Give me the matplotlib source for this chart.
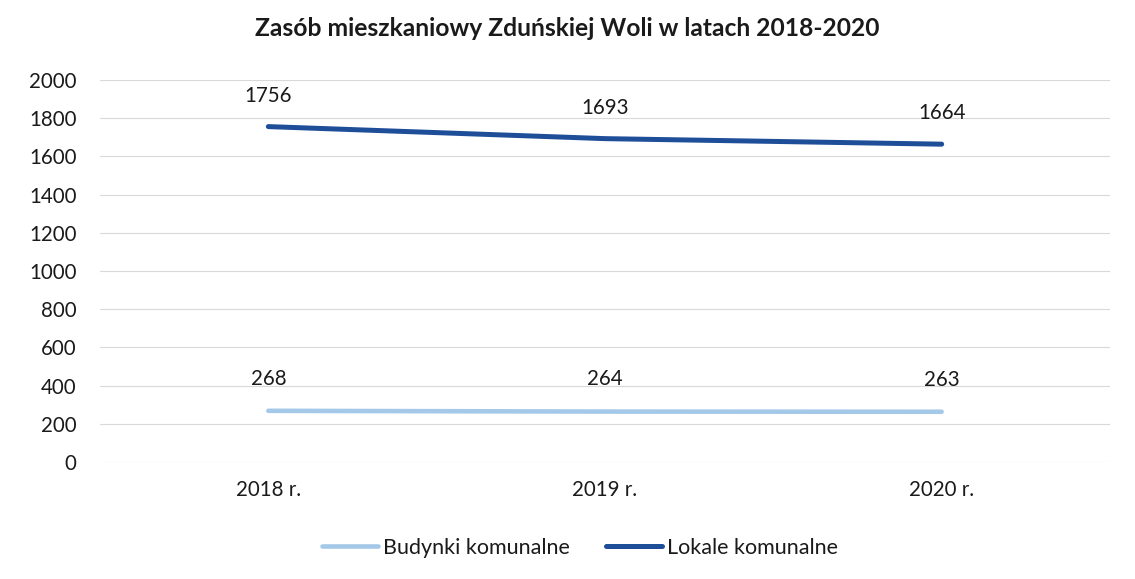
import matplotlib
matplotlib.use("Agg")
import matplotlib.pyplot as plt

plt.rcParams["font.family"] = ["Lato", "DejaVu Sans"]

YEARS = ["2018 r.", "2019 r.", "2020 r."]
BUDYNKI = [268, 264, 263]
LOKALE = [1756, 1693, 1664]
Y_TICKS = list(range(0, 2001, 200))

LIGHT = "#A4C8E8"
DARK = "#1F4E99"
TEXT = "#1A1A1A"
FS = 14.8

fig = plt.figure(figsize=(11.35, 5.79), dpi=100, facecolor="white")
ax = fig.add_axes([100 / 1135, 1 - 462 / 579, 1010 / 1135, 382 / 579])

x = range(len(YEARS))
ax.plot(x, BUDYNKI, color=LIGHT, linewidth=3.3, solid_capstyle="round",
        label="Budynki komunalne")
ax.plot(x, LOKALE, color=DARK, linewidth=3.6, solid_capstyle="round",
        label="Lokale komunalne")

# data labels above each point
for xi, v in zip(x, BUDYNKI):
    ax.annotate(str(v), (xi, v), xytext=(0, 16), textcoords="offset points",
                ha="center", va="bottom", fontsize=FS, color=TEXT)
for xi, v in zip(x, LOKALE):
    ax.annotate(str(v), (xi, v), xytext=(0, 15), textcoords="offset points",
                ha="center", va="bottom", fontsize=FS, color=TEXT)

ax.set_xlim(-0.5, 2.5)
ax.set_ylim(0, 2000)
ax.set_yticks(Y_TICKS)
ax.set_xticks(list(x))
ax.set_xticklabels(YEARS)
ax.tick_params(axis="both", length=0, labelsize=FS, colors=TEXT)
ax.tick_params(axis="y", pad=17)
ax.tick_params(axis="x", pad=13)
ax.yaxis.grid(True, color="#D9D9D9", linewidth=0.8)
ax.set_axisbelow(True)
for s in ax.spines.values():
    s.set_visible(False)

fig.suptitle("Zasób mieszkaniowy Zduńskiej Woli w latach 2018-2020",
             fontsize=17.7, fontweight="bold", color=TEXT, y=1 - 28 / 579,
             va="center")

fig.legend(loc="center", bbox_to_anchor=(580 / 1135, 1 - 548 / 579), ncol=2,
           frameon=False, fontsize=FS + 0.7, handlelength=2.6,
           handletextpad=0.2, columnspacing=1.7, labelcolor=TEXT)

fig.savefig("out.png", dpi=100, facecolor="white")
